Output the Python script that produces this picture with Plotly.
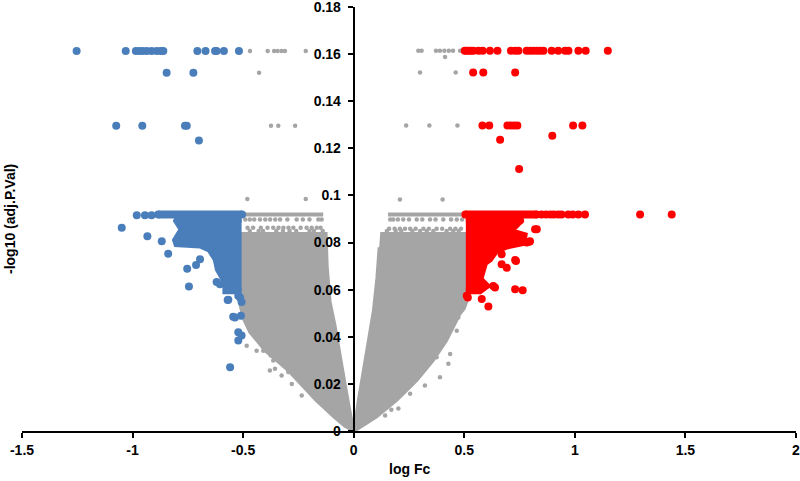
import plotly.graph_objects as go

# ---------------- data ----------------
# dense grey mass (non-significant genes): outline of each arm of the "V"
grey_body_left_x = [-0.53, -0.125, -0.120, -0.107, -0.085, -0.071, -0.055, -0.039, -0.020, 0.0,
                    -0.040, -0.090, -0.170, -0.240, -0.300, -0.400, -0.470, -0.50, -0.53]
grey_body_left_y = [0.0838, 0.0838, 0.070, 0.055, 0.045, 0.037, 0.028, 0.020, 0.010, 0.0,
                    0.002, 0.006, 0.013, 0.020, 0.026, 0.034, 0.042, 0.048, 0.060]
grey_body_right_x = [0.120, 0.53, 0.53, 0.50, 0.480, 0.420, 0.360, 0.285, 0.194, 0.104, 0.020, 0.0,
                     0.021, 0.040, 0.059, 0.089, 0.105, 0.115]
grey_body_right_y = [0.0838, 0.0838, 0.060, 0.052, 0.0496, 0.0384, 0.030, 0.0214, 0.013, 0.006, 0.001, 0.0,
                     0.013, 0.024, 0.034, 0.051, 0.065, 0.078]
# top row of grey genes (solid band)
grey_band_x = [-0.50, -0.138, None, 0.155, 0.50]
grey_band_y = [0.0919, 0.0919, None, 0.0919, 0.0919]
# isolated grey genes
grey_pts_x = [-0.469, -0.389, -0.360, -0.344, -0.326, -0.311, -0.217, -0.428, -0.374, -0.341, -0.265,
              -0.481, -0.217,
              0.292, 0.307, 0.372, 0.390, 0.410, 0.430, 0.449, 0.481, 0.413, 0.300, 0.461,
              0.237, 0.342, 0.469, 0.209, 0.402,
              0.436, 0.428, 0.322, 0.202, 0.142, 0.390, 0.473, 0.466, 0.375, 0.255, 0.170,
              -0.454, -0.379, -0.326, -0.280, -0.235, -0.409, -0.364, -0.484, -0.439, -0.375, -0.356, -0.296,
              -0.490, -0.470, -0.450, -0.424, -0.400, -0.378, -0.355, -0.333, -0.300, -0.258, -0.230, -0.200,
              -0.160, -0.145,
              -0.480, -0.455, -0.420, -0.390, -0.364, -0.340, -0.318, -0.295, -0.273, -0.240, -0.213,
              -0.190, -0.167, -0.150,
              -0.470, -0.430, -0.410, -0.350, -0.320, -0.290, -0.260, -0.200, -0.180, -0.140,
              0.165, 0.179, 0.200, 0.224, 0.250, 0.285, 0.310, 0.345, 0.370, 0.405, 0.440, 0.466, 0.490,
              0.160, 0.185, 0.209, 0.232, 0.255, 0.280, 0.315, 0.340, 0.375, 0.400, 0.436, 0.460, 0.485,
              0.150, 0.190, 0.215, 0.265, 0.300, 0.330, 0.360, 0.420, 0.450, 0.475]
grey_pts_y = [0.1613, 0.1613, 0.1613, 0.1613, 0.1613, 0.1613, 0.1613, 0.1521, 0.1296, 0.1296, 0.1296,
              0.0985, 0.0985,
              0.1614, 0.1614, 0.1614, 0.1614, 0.1614, 0.1614, 0.1614, 0.1614, 0.1588, 0.1522, 0.1522,
              0.1297, 0.1297, 0.1297, 0.0983, 0.0983,
              0.0327, 0.0285, 0.0193, 0.0095, 0.0066, 0.0228, 0.0482, 0.0426, 0.0313, 0.0158, 0.0090,
              0.0440, 0.0257, 0.0236, 0.0200, 0.0151, 0.0341, 0.0299, 0.0362, 0.0341, 0.0320, 0.0264, 0.0250,
              0.0898, 0.0898, 0.0898, 0.0898, 0.0898, 0.0898, 0.0898, 0.0898, 0.0898, 0.0898, 0.0898, 0.0898,
              0.0898, 0.0898,
              0.0863, 0.0863, 0.0863, 0.0863, 0.0863, 0.0863, 0.0863, 0.0863, 0.0863, 0.0863, 0.0863,
              0.0863, 0.0863, 0.0863,
              0.0849, 0.0849, 0.0849, 0.0849, 0.0849, 0.0849, 0.0849, 0.0849, 0.0849, 0.0849,
              0.0898, 0.0898, 0.0898, 0.0898, 0.0898, 0.0898, 0.0898, 0.0898, 0.0898, 0.0898, 0.0898, 0.0898,
              0.0898,
              0.0859, 0.0859, 0.0859, 0.0859, 0.0859, 0.0859, 0.0859, 0.0859, 0.0859, 0.0859, 0.0859, 0.0859,
              0.0859,
              0.0849, 0.0849, 0.0849, 0.0849, 0.0849, 0.0849, 0.0849, 0.0849, 0.0849, 0.0849]

# down-regulated (blue)
blue_body_x = [-0.507, -0.805, -0.775, -0.805, -0.800, -0.695, -0.650, -0.622, -0.612, -0.578, -0.578, -0.507]
blue_body_y = [0.0900, 0.0900, 0.0856, 0.0810, 0.0795, 0.0790, 0.0771, 0.0730, 0.0687, 0.0630, 0.0595, 0.0595]
blue_band_x = [-0.884, -0.505]
blue_band_y = [0.0919, 0.0919]
blue_pts_x = [-1.253, -1.031, -0.985, -0.970, -0.954, -0.936, -0.914, -0.891, -0.873, -0.861,
              -0.707, -0.670, -0.627, -0.620, -0.587, -0.519,
              -0.846, -0.725, -1.074, -0.956, -0.763, -0.755, -0.700,
              -0.981, -0.944, -0.914,
              -1.049, -0.933, -0.868, -0.839, -0.695, -0.713, -0.753, -0.745, -0.620, -0.605, -0.612,
              -0.567, -0.522, -0.507, -0.537, -0.510, -0.522, -0.507, -0.522, -0.559, -0.545, -0.514, -0.570]
blue_pts_y = [0.1613, 0.1613, 0.1613, 0.1613, 0.1613, 0.1613, 0.1613, 0.1613, 0.1613, 0.1613,
              0.1613, 0.1613, 0.1613, 0.1613, 0.1613, 0.1613,
              0.1521, 0.1521, 0.1296, 0.1296, 0.1296, 0.1296, 0.1233,
              0.0916, 0.0916, 0.0916,
              0.0863, 0.0827, 0.0806, 0.0753, 0.0729, 0.0705, 0.0689, 0.0613, 0.0633, 0.0623, 0.0715,
              0.0557, 0.0574, 0.0548, 0.0482, 0.0489, 0.0419, 0.0405, 0.0384, 0.0271, 0.0485, 0.0567, 0.0556]

# up-regulated (red)
red_body_x = [0.507, 0.760, 0.730, 0.660, 0.770, 0.765, 0.690, 0.640, 0.615, 0.592, 0.570, 0.600, 0.570, 0.507]
red_body_y = [0.0900, 0.0900, 0.0870, 0.0860, 0.0830, 0.0800, 0.0785, 0.0764, 0.0730, 0.0715, 0.0644, 0.0616,
              0.0595, 0.0595]
red_band_x = [0.505, 0.828]
red_band_y = [0.0919, 0.0919]
red_pts_x = [0.502, 0.510, 0.520, 0.531, 0.541, 0.564, 0.583, 0.616, 0.650, 0.711, 0.730, 0.745, 0.782,
             0.797, 0.812, 0.828, 0.843, 0.858, 0.895, 0.925, 0.956, 0.971, 1.016, 1.049, 1.149,
             0.540, 0.586, 0.730,
             0.582, 0.613, 0.695, 0.710, 0.725, 0.740, 0.992, 1.034,
             0.662, 0.898, 0.748,
             0.850, 0.870, 0.890, 0.905, 0.925, 0.940, 0.970, 0.990, 1.016, 1.046, 1.295, 1.438,
             0.752, 0.828, 0.677, 0.715, 0.797, 0.669, 0.730, 0.669, 0.692, 0.730, 0.764, 0.631,
             0.579, 0.609, 0.511, 0.516, 0.734, 0.639, 0.782, 0.820, 0.794, 0.749]
red_pts_y = [0.1614] * 25 + [0.1522] * 3 + [0.1297] * 8 + [0.1236, 0.1253, 0.1112] + [0.0919] * 12 + \
            [0.0895, 0.0856, 0.0877, 0.0877, 0.0806, 0.0750, 0.0726, 0.0708, 0.0693, 0.0602, 0.0598, 0.0616,
             0.0560, 0.0529, 0.0574, 0.0567, 0.0722, 0.0609, 0.0800, 0.0856, 0.0803, 0.0894]

x_ticks = [-1.5, -1, -0.5, 0, 0.5, 1, 1.5, 2]
x_tick_text = ["-1.5", "-1", "-0.5", "0", "0.5", "1", "1.5", "2"]
y_ticks = [0, 0.02, 0.04, 0.06, 0.08, 0.1, 0.12, 0.14, 0.16, 0.18]
y_tick_text = ["0", "0.02", "0.04", "0.06", "0.08", "0.1", "0.12", "0.14", "0.16", "0.18"]

GREY = "#a5a5a5"
BLUE = "#4a7ebb"
RED = "#ff0000"

fig = go.Figure()
for bx, by in [(grey_body_left_x, grey_body_left_y), (grey_body_right_x, grey_body_right_y)]:
    fig.add_trace(go.Scatter(x=bx, y=by, mode="lines", fill="toself", fillcolor=GREY,
                             line=dict(color=GREY, width=3), hoverinfo="skip"))
fig.add_trace(go.Scatter(x=grey_band_x, y=grey_band_y, mode="lines",
                         line=dict(color=GREY, width=4)))
fig.add_trace(go.Scatter(x=grey_pts_x, y=grey_pts_y, mode="markers",
                         marker=dict(color=GREY, size=4.5)))

fig.add_trace(go.Scatter(x=blue_body_x, y=blue_body_y, mode="lines", fill="toself", fillcolor=BLUE,
                         line=dict(color=BLUE, width=7)))
fig.add_trace(go.Scatter(x=blue_band_x, y=blue_band_y, mode="lines+markers",
                         line=dict(color=BLUE, width=8), marker=dict(color=BLUE, size=8)))
fig.add_trace(go.Scatter(x=blue_pts_x, y=blue_pts_y, mode="markers",
                         marker=dict(color=BLUE, size=8)))

fig.add_trace(go.Scatter(x=red_body_x, y=red_body_y, mode="lines", fill="toself", fillcolor=RED,
                         line=dict(color=RED, width=7)))
fig.add_trace(go.Scatter(x=red_band_x, y=red_band_y, mode="lines+markers",
                         line=dict(color=RED, width=8), marker=dict(color=RED, size=8)))
fig.add_trace(go.Scatter(x=red_pts_x, y=red_pts_y, mode="markers",
                         marker=dict(color=RED, size=8)))

FONT = "Liberation Sans"
fig.update_layout(
    width=800, height=481,
    margin=dict(l=22, r=4, t=7, b=50, autoexpand=False),
    paper_bgcolor="white", plot_bgcolor="white",
    showlegend=False,
    font=dict(family=FONT, color="black"),
    xaxis=dict(range=[-1.5, 2], tickvals=x_ticks, ticktext=x_tick_text, automargin=False,
               ticklabeloverflow="allow",
               showgrid=False, zeroline=False, showline=True, linecolor="black", linewidth=2,
               ticks="outside", ticklen=5, tickwidth=2, tickcolor="black",
               tickfont=dict(family=FONT, size=14, color="black", weight="bold")),
    yaxis=dict(range=[0, 0.18], tickvals=y_ticks, ticktext=y_tick_text, automargin=False,
               ticklabeloverflow="allow", ticklabelstandoff=4,
               anchor="free", position=1.5 / 3.5,
               showgrid=False, zeroline=False, showline=True, linecolor="black", linewidth=2,
               ticks="outside", ticklen=5, tickwidth=2, tickcolor="black",
               tickfont=dict(family=FONT, size=14, color="black", weight="bold")),
    annotations=[
        dict(text="<b>log Fc</b>", xref="paper", yref="paper", x=0.5, y=-0.09,
             xanchor="center", yanchor="middle", showarrow=False, font=dict(family=FONT, size=14)),
        dict(text="<b>-log10 (adj.P.Val)</b>", xref="paper", yref="paper", x=-0.0155, y=0.5,
             xanchor="center", yanchor="middle", textangle=-90, showarrow=False,
             font=dict(family=FONT, size=14)),
    ],
)

fig.write_html("out.html", config={"displayModeBar": False},
               post_script="document.body.style.margin='0';document.body.style.overflow='hidden';")
